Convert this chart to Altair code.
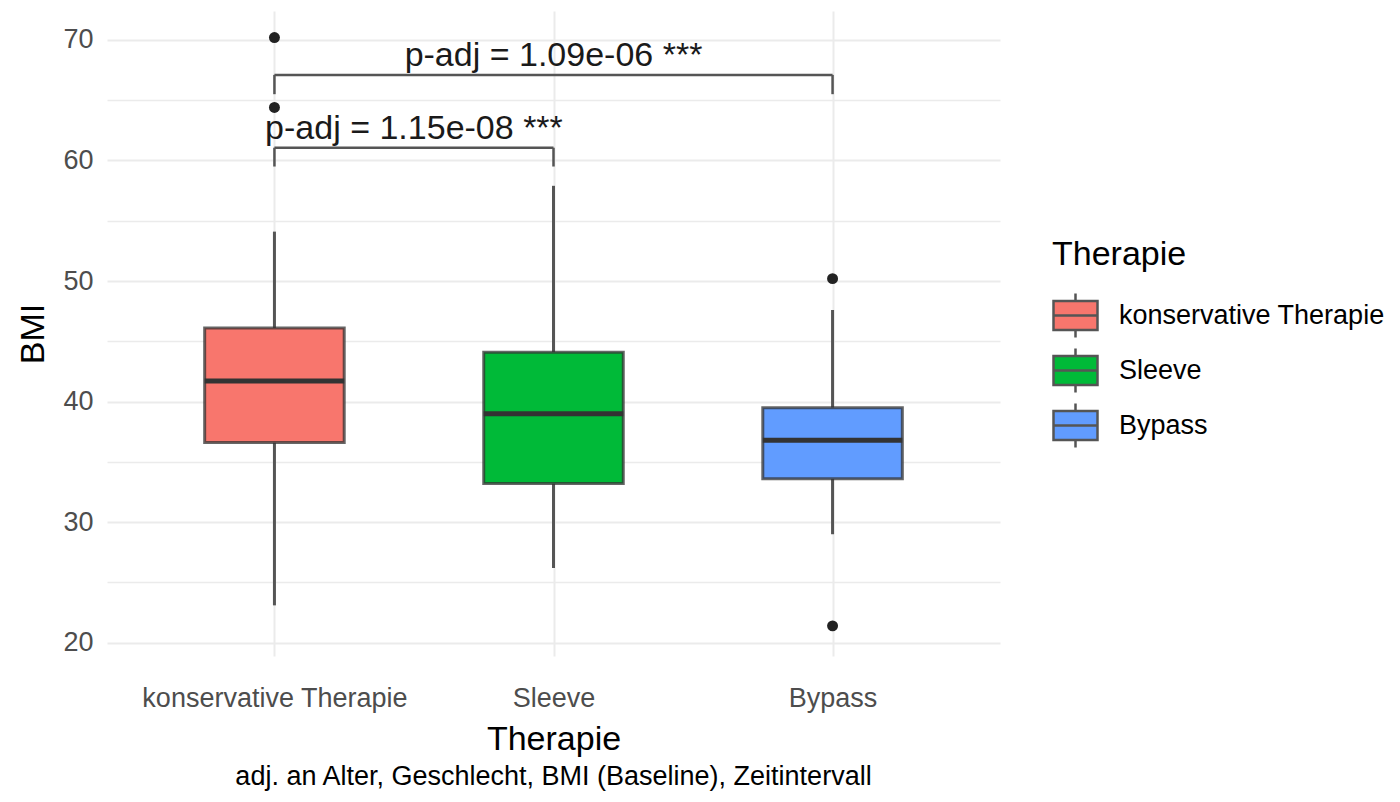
import altair as alt
import pandas as pd

cats = ["konservative Therapie", "Sleeve", "Bypass"]
colors = ["#F8766D", "#00BA38", "#619CFF"]
lower_whisker = [23.1, 26.2, 29.0]
q1 = [36.6, 33.2, 33.6]
median = [41.7, 39.0, 36.8]
q3 = [46.1, 44.1, 39.5]
upper_whisker = [54.1, 57.9, 47.6]

outlier_cat = ["konservative Therapie", "konservative Therapie", "Bypass", "Bypass"]
outlier_val = [70.2, 64.4, 50.2, 21.4]

br_start = ["konservative Therapie", "konservative Therapie"]
br_end = ["Sleeve", "Bypass"]
br_y = [61.06, 67.1]
br_tip = [59.5, 65.5]
br_label = ["p-adj = 1.15e-08 ***", "p-adj = 1.09e-06 ***"]

FONT = "Liberation Sans"
idx = {c: i for i, c in enumerate(cats)}

box = pd.DataFrame({"Therapie": cats, "idx": [idx[c] for c in cats],
                    "lw": lower_whisker, "q1": q1, "med": median, "q3": q3, "uw": upper_whisker})
outl = pd.DataFrame({"idx": [idx[c] for c in outlier_cat], "v": outlier_val})
brk = pd.DataFrame({"a": [idx[c] for c in br_start], "b": [idx[c] for c in br_end],
                    "y": br_y, "tip": br_tip, "label": br_label})

labexpr = "datum.value == 0 ? '%s' : datum.value == 1 ? '%s' : '%s'" % tuple(cats)

xs = alt.Scale(domain=[-0.6, 2.6], nice=False, zero=False)
ys = alt.Scale(domain=[18.9, 72.4], nice=False, zero=False)

X = alt.X("idx:Q", scale=xs, title="Therapie",
          axis=alt.Axis(values=[0, 1, 2], labelExpr=labexpr, grid=True, ticks=False, domain=False,
                        labelFontSize=27, labelColor="#4D4D4D", labelFont=FONT, labelPadding=29,
                        labelLimit=0,
                        titleFontSize=34, titleFont=FONT, titleColor="#000000", titleFontWeight="normal",
                        titlePadding=11, gridColor="#EBEBEB", gridWidth=2))
Y = alt.Y("lw:Q", scale=ys, title="BMI",
          axis=alt.Axis(values=list(range(20, 71, 5)), labelExpr="datum.value % 10 === 0 ? datum.label : ''",
                        ticks=False, domain=False, grid=True,
                        gridColor="#EBEBEB",
                        gridWidth={"condition": {"test": "datum.value % 10 === 0", "value": 2}, "value": 1.3},
                        labelFontSize=27, labelColor="#4D4D4D", labelFont=FONT, labelPadding=14,
                        titleFontSize=34, titleFont=FONT, titleColor="#000000", titleFontWeight="normal",
                        titlePadding=12))

base = alt.Chart(box)

whisk_lo = base.mark_rule(color="#555555", strokeWidth=3).encode(x=X, y=Y, y2="q1:Q")
whisk_hi = base.mark_rule(color="#555555", strokeWidth=3).encode(x="idx:Q", y="q3:Q", y2="uw:Q")

boxes = base.transform_calculate(l="datum.idx - 0.25", r="datum.idx + 0.25").mark_rect(
    stroke="#333333", strokeWidth=3, strokeOpacity=0.75).encode(
    x="l:Q", x2="r:Q", y="q1:Q", y2="q3:Q",
    fill=alt.Fill("Therapie:N", sort=cats, scale=alt.Scale(domain=cats, range=colors),
                  legend=alt.Legend(title="Therapie", orient="none", legendX=945, legendY=227,
                                    titleFontSize=34, titleFont=FONT, titleColor="#000000",
                                    titleFontWeight="normal", titlePadding=20,
                                    labelFontSize=27, labelFont=FONT, labelColor="#000000",
                                    labelOffset=20, rowPadding=0, labelLimit=0,
                                    symbolType="M-1,-0.66H1V0.66H-1Z M-1,0H1 M0,-0.66V-1 M0,0.66V1",
                                    symbolSize=1936, symbolStrokeColor="#555555", symbolStrokeWidth=2.5,
                                    symbolOpacity=1)))

meds = base.transform_calculate(l="datum.idx - 0.25", r="datum.idx + 0.25").mark_rule(
    color="#333333", strokeWidth=5).encode(x="l:Q", x2="r:Q", y="med:Q")

pts = alt.Chart(outl).mark_circle(size=120, color="#222222", opacity=1).encode(x="idx:Q", y="v:Q")

bh = alt.Chart(brk).mark_rule(color="#555555", strokeWidth=2.5).encode(x="a:Q", x2="b:Q", y="y:Q")
bl = alt.Chart(brk).mark_rule(color="#555555", strokeWidth=2.5).encode(x="a:Q", y="y:Q", y2="tip:Q")
br = alt.Chart(brk).mark_rule(color="#555555", strokeWidth=2.5).encode(x="b:Q", y="y:Q", y2="tip:Q")
bt = alt.Chart(brk).transform_calculate(m="(datum.a + datum.b) / 2").mark_text(
    fontSize=34, font=FONT, color="#1A1A1A", baseline="bottom", dy=-2).encode(
    x="m:Q", y="y:Q", text="label:N")

chart = alt.layer(whisk_lo, whisk_hi, boxes, meds, pts, bh, bl, br, bt).properties(
    width=893, height=645,
    title=alt.TitleParams("adj. an Alter, Geschlecht, BMI (Baseline), Zeitintervall", orient="bottom",
                          anchor="middle", fontSize=27, font=FONT, color="#000000",
                          fontWeight="normal", offset=8),
    autosize=alt.AutoSizeParams(type="none"),
    padding={"left": 99, "top": 3, "right": 392, "bottom": 138},
).configure(background="white").configure_view(strokeWidth=0)

chart.save("out.html", embed_options={"renderer": "svg", "actions": False})
